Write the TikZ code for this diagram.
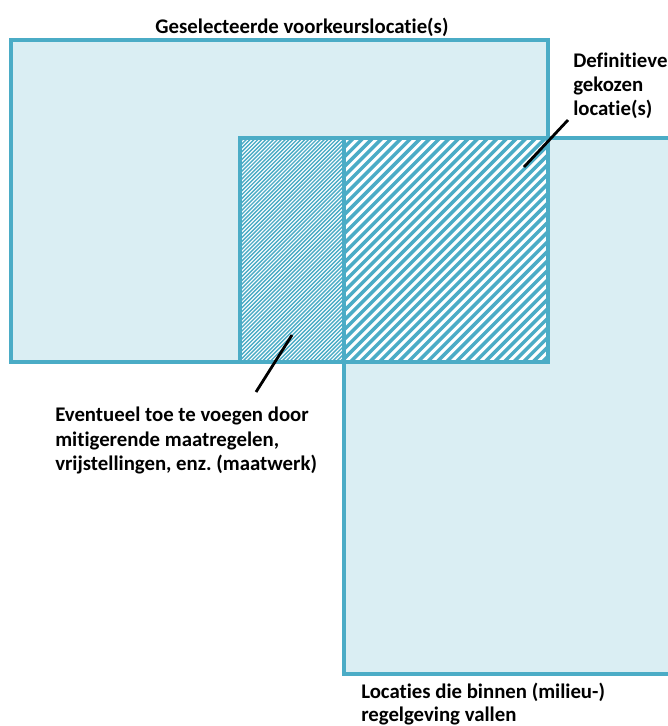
\documentclass[tikz,border=0pt]{standalone}
\usepackage{fontspec}
\setmainfont[Ligatures={TeX,NoCommon}]{Carlito}
\definecolor{bord}{HTML}{4BACC6}
\definecolor{fillb}{HTML}{DAEEF3}
\begin{document}
\frenchspacing
\begin{tikzpicture}[x=0.75pt,y=-0.75pt,
  boxline/.style={draw=bord,line width=2.3pt},
  lbl/.style={font=\bfseries\fontsize{15.6}{18}\selectfont,inner sep=0pt,anchor=base west},
  leader/.style={draw=black,line width=2.1pt}]
\clip (0,0) rectangle (668,726);
% fills
\fill[fillb] (11,40) rectangle (548,362);
\fill[fillb] (344,138) rectangle (690,674);
\fill[white] (240,138) rectangle (548,362);
% dense hatch
\begin{scope}
\clip (240,138) rectangle (344,362);
\foreach \i in {0,...,85} {
  \draw[bord,line width=1.05pt] ({240-224+\i*3.9},362) -- ({240+\i*3.9},138);
}
\end{scope}
% wide hatch
\begin{scope}
\clip (344,138) rectangle (548,362);
\foreach \i in {0,...,46} {
  \draw[bord,line width=2.6pt] ({344-224+\i*9.6},362) -- ({344+\i*9.6},138);
}
\end{scope}
% borders
\draw[boxline] (11,40) rectangle (548,362);
\draw[boxline] (344,138) rectangle (690,674);
\draw[boxline] (240,362) -- (240,138) -- (344,138);
% labels
\node[lbl,anchor=base] (title) at (302,33) {Geselecteerde voorkeurslocatie(s)};
\node[lbl] (def1) at (573,67) {Definitieve};
\node[lbl] (def2) at (573,91.5) {gekozen};
\node[lbl] (def3) at (573,115) {locatie(s)};
\node[lbl] (ev1) at (55,421) {Eventueel toe te voegen door};
\node[lbl] (ev2) at (55,446) {mitigerende maatregelen,};
\node[lbl] (ev3) at (55,470) {vrijstellingen, enz. (maatwerk)};
\node[lbl] (loc1) at (361,698) {Locaties die binnen (milieu-)};
\node[lbl] (loc2) at (361,721) {regelgeving vallen};
% leaders
\coordinate (d1) at (568,120);
\coordinate (d2) at (524,167);
\coordinate (e1) at (292,335);
\coordinate (e2) at (256,392);
\draw[leader] (d1) -- (d2);
\draw[leader] (e2) -- (e1);
\end{tikzpicture}
\end{document}
